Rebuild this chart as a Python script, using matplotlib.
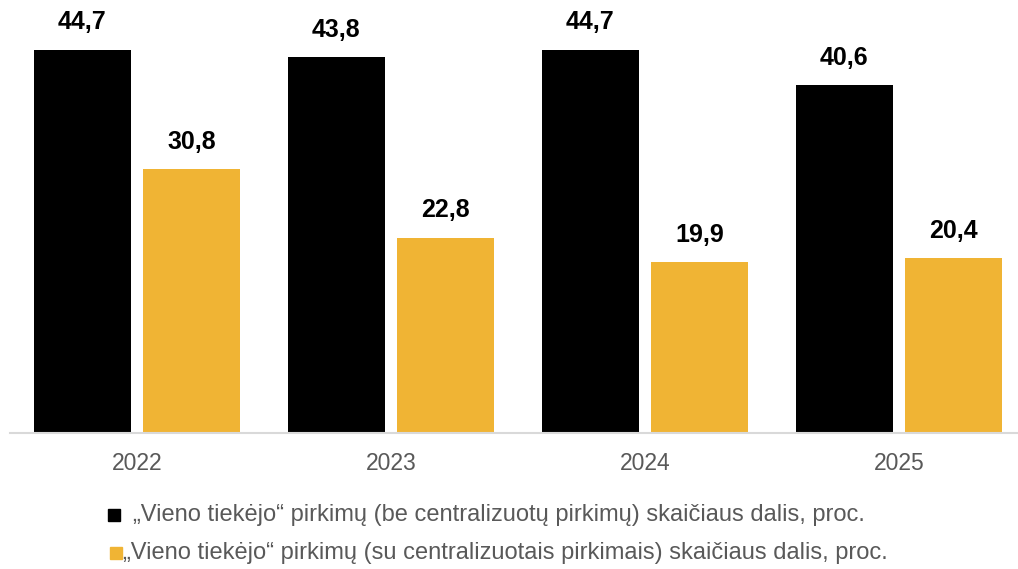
import numpy as np
import matplotlib.pyplot as plt
from matplotlib.patches import Rectangle

plt.rcParams['font.family'] = ['Liberation Sans', 'DejaVu Sans']

# duomenys
years = ['2022', '2023', '2024', '2025']
be_central = [44.7, 43.8, 44.7, 40.6]
su_central = [30.8, 22.8, 19.9, 20.4]
legend_labels = ['„Vieno tiekėjo“ pirkimų (be centralizuotų pirkimų) skaičiaus dalis, proc.',
                 '„Vieno tiekėjo“ pirkimų (su centralizuotais pirkimais) skaičiaus dalis, proc.']

c_black = '#000000'
c_yellow = '#F0B434'
c_text = '#595959'

W, H = 1018, 569
fig = plt.figure(figsize=(W / 100, H / 100), dpi=100)
ax = fig.add_axes([10 / W, (H - 433) / H, (1018 - 10) / W, 433 / H])

x = np.arange(len(years))
bw = 0.382
off = 0.215
b1 = ax.bar(x - off, be_central, bw, color=c_black)
b2 = ax.bar(x + off, su_central, bw, color=c_yellow)

fmt = lambda v: f'{v:.1f}'.replace('.', ',')
for bars in (b1, b2):
    for b in bars:
        v = b.get_height()
        ax.annotate(fmt(v), (b.get_x() + b.get_width() / 2, v), xytext=(0, 11),
                    textcoords='offset points', ha='center', va='bottom',
                    fontsize=18, fontweight='bold', color='black')

ax.set_xlim(-0.5, 3.5 - 8 / 254)
ax.set_ylim(0, 50.5)
ax.set_xticks(x)
ax.set_xticklabels(years, fontsize=16.5, color=c_text)
ax.tick_params(axis='x', length=0, pad=14)
ax.set_yticks([])
for s in ['top', 'right', 'left']:
    ax.spines[s].set_visible(False)
ax.spines['bottom'].set_color('#D9D9D9')
ax.spines['bottom'].set_linewidth(1.5)

# legenda
leg_rows = [(108, 515, 133, c_black), (110, 553, 123, c_yellow)]
for (mx, my, tx, col), lab in zip(leg_rows, legend_labels):
    fig.patches.append(Rectangle((mx / W, (H - my - 6) / H), 12 / W, 12 / H,
                                 transform=fig.transFigure, color=col))
    fig.text(tx / W, (H - my) / H, lab, fontsize=17, color=c_text, va='center', ha='left')

plt.savefig('out.png', dpi=100)
